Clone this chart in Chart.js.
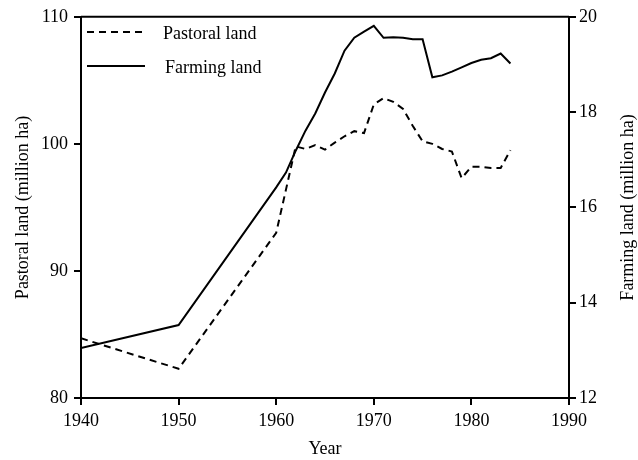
<!DOCTYPE html>
<html>
<head>
<meta charset="utf-8">
<script src="https://cdn.jsdelivr.net/npm/chart.js@4.4.0/dist/chart.umd.min.js"></script>
<style>
    body { margin: 0; background: #fff; }
    #wrap { width: 638px; height: 460px; }
</style>
</head>
<body>
<div id="wrap"><canvas id="chart-terras" width="638" height="460"></canvas></div>
<script>
const anos = [1940, 1950, 1960, 1961, 1962, 1963, 1964, 1965, 1966, 1967, 1968, 1969, 1970,
    1971, 1972, 1973, 1974, 1975, 1976, 1977, 1978, 1979, 1980, 1981, 1982, 1983, 1984];
const pastoral = [84.7, 82.3, 93.0, 96.4, 99.8, 99.6, 99.9, 99.55, 100.1, 100.6, 101.0, 100.85, 103.1,
    103.6, 103.3, 102.75, 101.4, 100.2, 100.0, 99.6, 99.4, 97.3, 98.2, 98.2, 98.1, 98.1, 99.5];
const agricola = [13.05, 13.53, 16.42, 16.73, 17.19, 17.61, 17.97, 18.41, 18.81, 19.29, 19.56, 19.69, 19.81,
    19.56, 19.57, 19.56, 19.53, 19.53, 18.73, 18.77, 18.85, 18.94, 19.03, 19.10, 19.13, 19.23, 19.02];
const legendas = ['Pastoral land', 'Farming land'];
const tituloX = 'Year';
const tituloY = 'Pastoral land (million ha)';
const tituloY1 = 'Farming land (million ha)';

const fonte = 'Liberation Serif, Times New Roman, serif';

const chartJS = {
    pontos: function(valores) {
        return anos.map((a, i) => ({ x: a, y: valores[i] }));
    },

    // moldura + legenda dentro do grafico + titulo do eixo direito
    extras: {
        id: 'extras',
        afterDraw: function(chart) {
            const ctx = chart.ctx;
            const a = chart.chartArea;
            ctx.save();
            ctx.strokeStyle = '#000';
            ctx.lineWidth = 2;
            ctx.beginPath();
            ctx.moveTo(a.left, a.top);
            ctx.lineTo(a.right, a.top);
            ctx.stroke();

            const linhas = [{ dash: [7, 5], y: 32 }, { dash: [], y: 66 }];
            ctx.font = '18px ' + fonte;
            ctx.fillStyle = '#000';
            ctx.textBaseline = 'middle';
            linhas.forEach((l, i) => {
                ctx.setLineDash(l.dash);
                ctx.beginPath();
                ctx.moveTo(a.left + 6, l.y);
                ctx.lineTo(a.left + 64, l.y);
                ctx.stroke();
                ctx.fillText(legendas[i], a.left + 82 + i * 2, l.y + 2);
            });
            ctx.setLineDash([]);

            ctx.translate(628, (a.top + a.bottom) / 2);
            ctx.rotate(-Math.PI / 2);
            ctx.textAlign = 'center';
            ctx.fillText(tituloY1, 0, 0);
            ctx.restore();
        }
    },

    init: function() {
        const ctx = document.getElementById('chart-terras').getContext('2d');
        const eixo = { color: '#000', width: 2 };
        const grade = { drawOnChartArea: false, color: '#000', lineWidth: 2, tickLength: 7 };
        const tick = { color: '#000', font: { family: fonte, size: 18 } };

        new Chart(ctx, {
            type: 'line',
            data: {
                datasets: [
                    {
                        label: legendas[0],
                        data: this.pontos(pastoral),
                        yAxisID: 'y',
                        borderColor: '#000',
                        borderWidth: 2,
                        borderDash: [7, 5],
                        pointRadius: 0,
                        fill: false,
                        tension: 0
                    },
                    {
                        label: legendas[1],
                        data: this.pontos(agricola),
                        yAxisID: 'y1',
                        borderColor: '#000',
                        borderWidth: 2,
                        pointRadius: 0,
                        fill: false,
                        tension: 0
                    }
                ]
            },
            options: {
                responsive: false,
                animation: false,
                layout: { padding: { top: 16, left: 0, right: 0, bottom: 0 } },
                plugins: { legend: { display: false }, tooltip: { enabled: false } },
                scales: {
                    x: {
                        type: 'linear',
                        min: 1940,
                        max: 1990,
                        border: eixo,
                        grid: grade,
                        ticks: Object.assign({ stepSize: 10, padding: 5, maxRotation: 0,
                            callback: (v) => String(v) }, tick),
                        title: { display: true, text: tituloX, color: '#000',
                            font: { family: fonte, size: 18 }, padding: { bottom: 0 } },
                        afterFit: (s) => { s.height = 62; }
                    },
                    y: {
                        position: 'left',
                        min: 80,
                        max: 110,
                        border: eixo,
                        grid: grade,
                        ticks: Object.assign({ stepSize: 10, padding: 6 }, tick),
                        title: { display: true, text: tituloY, color: '#000',
                            font: { family: fonte, size: 18 }, padding: { top: 12 } },
                        afterFit: (s) => { s.width = 81; }
                    },
                    y1: {
                        position: 'right',
                        min: 12,
                        max: 20,
                        border: eixo,
                        grid: grade,
                        ticks: Object.assign({ stepSize: 2, padding: 3 }, tick),
                        afterFit: (s) => { s.width = 69; }
                    }
                }
            },
            plugins: [this.extras]
        });
    }
};

chartJS.init();
</script>
</body>
</html>
